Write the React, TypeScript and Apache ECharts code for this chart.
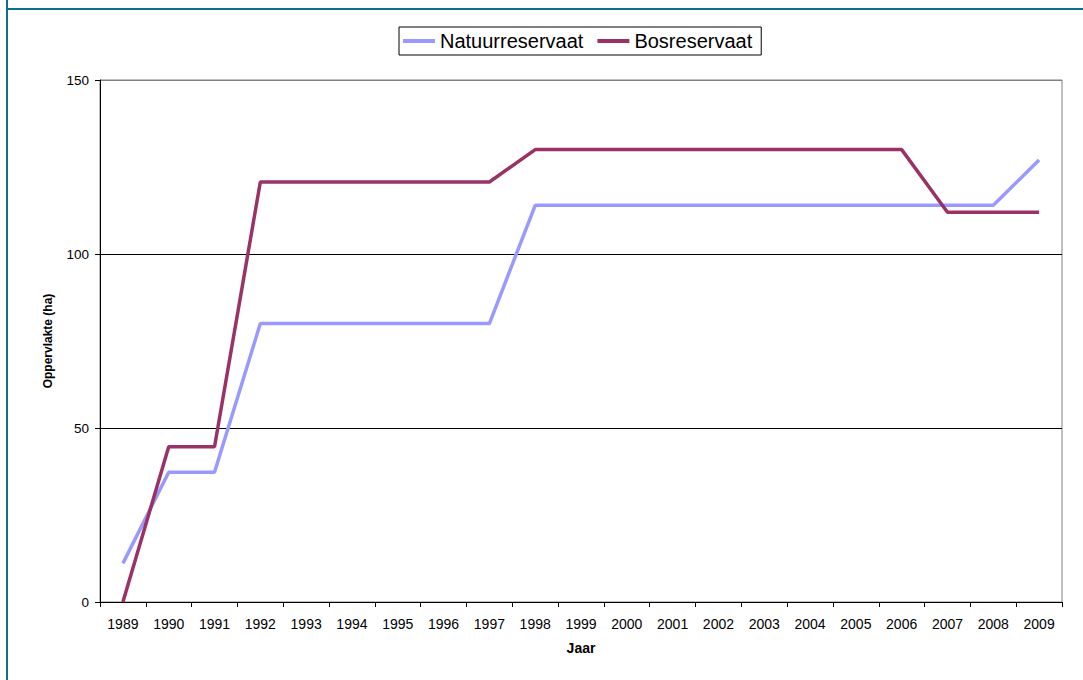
import React, { useEffect, useRef } from "react";
import * as echarts from "echarts";

const years = ["1989","1990","1991","1992","1993","1994","1995","1996","1997","1998","1999","2000","2001","2002","2003","2004","2005","2006","2007","2008","2009"];
const natuurreservaat = [11.1, 37.3, 37.3, 80, 80, 80, 80, 80, 80, 114, 114, 114, 114, 114, 114, 114, 114, 114, 114, 114, 127];
const bosreservaat = [0, 44.6, 44.6, 120.7, 120.7, 120.7, 120.7, 120.7, 120.7, 130, 130, 130, 130, 130, 130, 130, 130, 130, 112, 112, 112];
const yTicks = { min: 0, max: 150, interval: 50 };

const FONT = "Arial, 'Liberation Sans', sans-serif";

export default function App() {
  const ref = useRef<HTMLDivElement>(null);
  useEffect(() => {
    document.body.style.margin = "0";
    const chart = echarts.init(ref.current!, null, { renderer: "svg" });
    chart.setOption({
      animation: false,
      backgroundColor: "#ffffff",
      textStyle: { fontFamily: FONT },
      graphic: [
        { type: "line", shape: { x1: 7, y1: 0, x2: 7, y2: 680 }, style: { stroke: "#0E6E8E", lineWidth: 2 } },
        { type: "line", shape: { x1: 6, y1: 9, x2: 1083, y2: 9 }, style: { stroke: "#0E6E8E", lineWidth: 2 } },
      ],
      legend: {
        left: 399,
        top: 27,
        padding: [4, 9, 4, 4],
        borderColor: "#000",
        borderWidth: 1,
        itemWidth: 32,
        itemHeight: 4,
        itemGap: 14,
        icon: "rect",
        textStyle: { fontSize: 20, color: "#000", fontFamily: FONT },
        data: ["Natuurreservaat", "Bosreservaat"],
      },
      grid: {
        left: 100,
        right: 21,
        top: 80,
        bottom: 78,
        show: true,
        borderColor: "#808080",
        borderWidth: 1,
      },
      xAxis: {
        type: "category",
        data: years,
        boundaryGap: true,
        name: "Jaar",
        nameLocation: "middle",
        nameGap: 39,
        nameTextStyle: { fontWeight: "bold", fontSize: 14, color: "#000", fontFamily: FONT },
        axisLine: { show: true, lineStyle: { color: "#000", width: 1 } },
        axisTick: { show: true, length: 5, lineStyle: { color: "#000" }, alignWithLabel: false },
        axisLabel: { fontSize: 14, color: "#000", margin: 15, interval: 0, fontFamily: FONT },
        splitLine: { show: false },
      },
      yAxis: {
        type: "value",
        min: yTicks.min,
        max: yTicks.max,
        interval: yTicks.interval,
        name: "Oppervlakte (ha)",
        nameLocation: "middle",
        nameGap: 46,
        nameTextStyle: { fontWeight: "bold", fontSize: 12, color: "#000", fontFamily: FONT },
        axisLine: { show: true, lineStyle: { color: "#000", width: 1 } },
        axisTick: { show: true, length: 5, lineStyle: { color: "#000" } },
        axisLabel: { fontSize: 13.5, color: "#000", margin: 11, fontFamily: FONT },
        splitLine: { show: true, lineStyle: { color: ["#000", "#000", "#000", "#808080"], width: 1 } },
      },
      series: [
        {
          name: "Natuurreservaat",
          type: "line",
          data: natuurreservaat,
          showSymbol: false,
          symbol: "none",
          itemStyle: { color: "#9999FF" },
          lineStyle: { color: "#9999FF", width: 3.5 },
        },
        {
          name: "Bosreservaat",
          type: "line",
          data: bosreservaat,
          showSymbol: false,
          symbol: "none",
          itemStyle: { color: "#993366" },
          lineStyle: { color: "#993366", width: 3.5 },
        },
      ],
    });
    return () => chart.dispose();
  }, []);
  return <div ref={ref} style={{ width: 1083, height: 680 }} />;
}
